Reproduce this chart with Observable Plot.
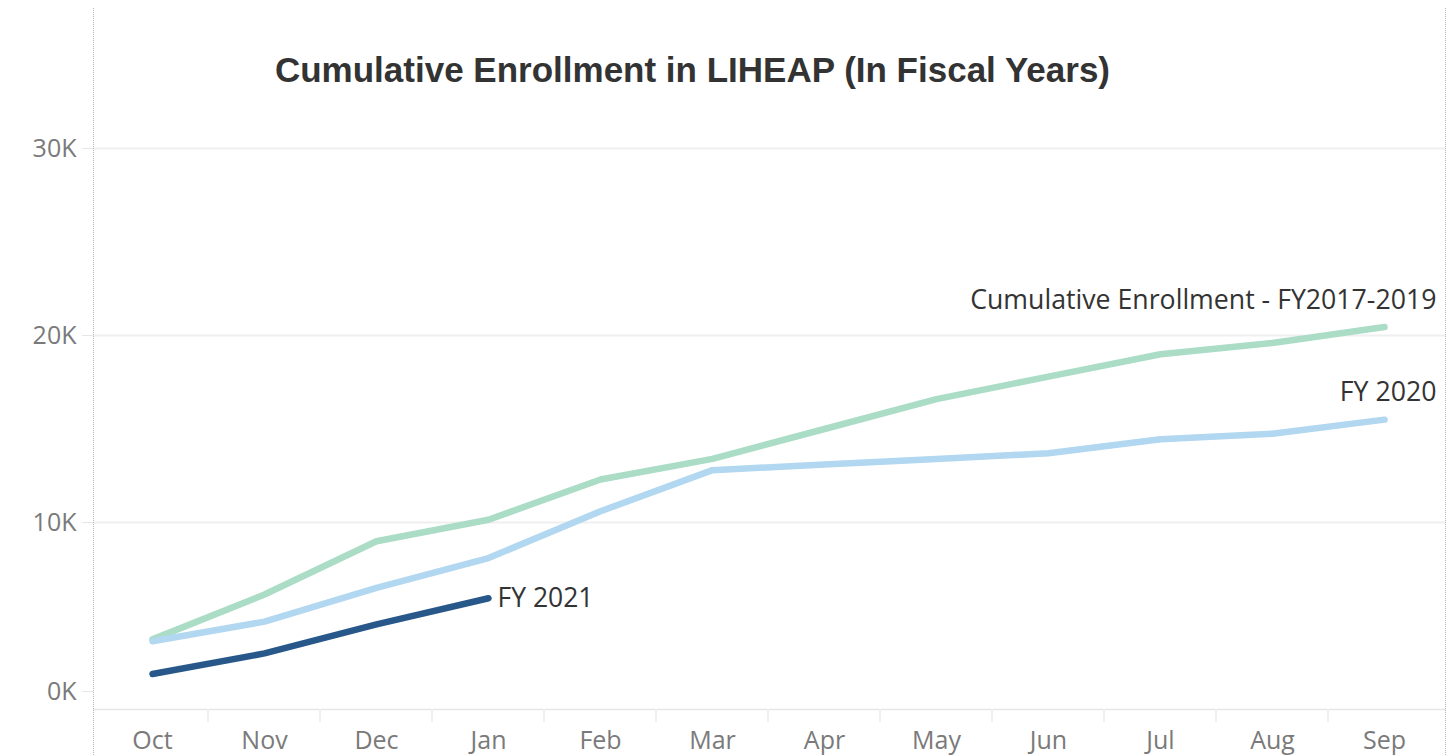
<!DOCTYPE html>
<html>
<head>
<meta charset="utf-8">
<script src="https://cdn.jsdelivr.net/npm/d3@7"></script>
<script src="https://cdn.jsdelivr.net/npm/@observablehq/plot@0.6"></script>
<style>
  html, body { margin: 0; padding: 0; background: #fff; }
  #wrap { position: relative; width: 1449px; height: 755px; overflow: hidden; }
  #title { position: absolute; left: 0; width: 1385px; top: 52px; text-align: center;
    font-family: "Liberation Sans", Arial, sans-serif; font-weight: bold; font-size: 35px;
    line-height: 35px; color: #333; white-space: nowrap; }
  .vdot { position: absolute; top: 8px; bottom: 0; width: 0; border-left: 1px dotted #b8b8b8; }
  svg { position: absolute; left: 0; top: 0; }
</style>
</head>
<body>
<div id="wrap">
  <div class="vdot" style="left:93px"></div>
  <div class="vdot" style="left:1445px"></div>
  <div id="title">Cumulative Enrollment in LIHEAP (In Fiscal Years)</div>
</div>
<script>
const months = ["Oct","Nov","Dec","Jan","Feb","Mar","Apr","May","Jun","Jul","Aug","Sep"];
const seriesNames = ["Cumulative Enrollment - FY2017-2019", "FY 2020", "FY 2021"];
const fy2017_2019 = [3750, 6150, 9000, 10150, 12300, 13400, 15000, 16600, 17800, 19000, 19600, 20450];
const fy2020 = [3650, 4700, 6500, 8100, 10600, 12800, 13100, 13400, 13700, 14450, 14750, 15500];
const fy2021 = [1900, 3000, 4550, 5950];
const colors = ["#aadcc6", "#b2d7f0", "#28588a"];
const gridTicks = [10000, 20000, 30000];

const data = [];
[fy2017_2019, fy2020, fy2021].forEach((vals, i) => {
  vals.forEach((v, j) => data.push({series: seriesNames[i], month: months[j], value: v}));
});
const lastPoints = seriesNames.map(s => data.filter(d => d.series === s).at(-1));

const xStart = 147, xEnd = 1389;
const step = (xEnd - xStart) / (months.length - 1);
const fmt = d => d / 1000 + "K";

const chart = Plot.plot({
  width: 1449,
  height: 755,
  marginLeft: 93,
  marginRight: 3,
  marginTop: 148,
  marginBottom: 46,
  style: {background: "transparent", overflow: "visible"},
  x: {type: "point", domain: months, range: [xStart, xEnd], padding: 0, label: null},
  y: {type: "linear", domain: [0, 30000], label: null},
  color: {domain: seriesNames, range: colors},
  marks: [
    Plot.ruleY(gridTicks, {stroke: "#efefef", strokeWidth: 2}),
    Plot.ruleY([0], {stroke: "#e6e6e6", strokeWidth: 1.5}),
    Plot.ruleX(months.slice(1), {dx: -step / 2, y1: 0, y2: -700, stroke: "#efefef", strokeWidth: 2}),
    Plot.axisY(gridTicks, {tickSize: 11, tickPadding: 6, stroke: "#e6e6e6", tickFormat: fmt,
      fontSize: 25, fill: "#7a7a7a", fontFamily: "Open Sans", label: null}),
    Plot.axisY([0], {tickSize: 11, tickPadding: 6, stroke: "#e6e6e6", tickFormat: fmt, dy: -18,
      fontSize: 25, fill: "#7a7a7a", fontFamily: "Open Sans", label: null}),
    Plot.axisX({tickSize: 0, tickPadding: 22, fontSize: 25, fill: "#7a7a7a", fontFamily: "Open Sans", label: null}),
    Plot.line(data, {x: "month", y: "value", z: "series", stroke: "series", strokeWidth: 6.5,
      strokeLinecap: "round", strokeLinejoin: "round"}),
    Plot.text(lastPoints.slice(0, 2), {x: "month", y: "value", text: "series", textAnchor: "end",
      dx: 52, dy: -27, fontSize: 26.7, fill: "#333", fontFamily: "Open Sans"}),
    Plot.text(lastPoints.slice(2), {x: "month", y: "value", text: "series", textAnchor: "start",
      dx: 9, dy: 0, fontSize: 26.5, fill: "#333", fontFamily: "Open Sans"})
  ]
});
document.getElementById("wrap").prepend(chart);
</script>
</body>
</html>
